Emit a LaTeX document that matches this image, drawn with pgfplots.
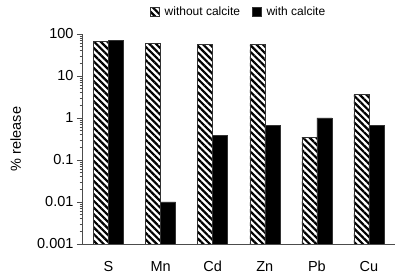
\documentclass[border=0pt]{standalone}
\usepackage{pgfplots}
\pgfplotsset{compat=1.18}
\usepackage{fontspec}
\setmainfont{Liberation Sans}
\usetikzlibrary{patterns.meta}
\begin{document}
\begin{tikzpicture}
% fixed page: axis box at 82.5..395 x 34..244 of a 400x280 frame
\useasboundingbox (-82.5pt,-36pt) rectangle (317.5pt,244pt);
\begin{axis}[
    at={(0pt,0pt)}, anchor=south west,
    scale only axis,
    width=312.5pt, height=210pt,
    ymode=log,
    log origin=infty,
    ymin=0.001, ymax=100,
    xmin=-0.5, xmax=5.5,
    ybar=0pt,
    bar width=15pt,
    axis x line*=bottom,
    axis y line*=left,
    axis line style={black!70, line width=0.6pt},
    xtick={0,...,5},
    xticklabels={S,Mn,Cd,Zn,Pb,Cu},
    x tick label style={font=\fontsize{14.5}{16}\selectfont, yshift=-8pt},
    major x tick style={draw=none},
    extra x ticks={0.5,1.5,2.5,3.5,4.5,5.5},
    extra x tick labels={},
    extra x tick style={major tick length=5pt, tick align=outside,
        major tick style={draw=black!70, line width=0.6pt}},
    ytick={0.001,0.01,0.1,1,10,100},
    yticklabels={0.001,0.01,0.1,1,10,100},
    y tick label style={font=\fontsize{14.5}{16}\selectfont},
    tick align=outside,
    major tick length=5.5pt,
    y tick style={draw=black!70, line width=0.6pt},
    minor y tick num=0,
    /pgf/number format/assume math mode=true,
    ylabel={\% release},
    ylabel style={font=\fontsize{14.5}{16}\selectfont,
        at={(axis description cs:-0.214,0.5)}, anchor=center},
    legend style={draw=none, at={(0.5,1.105)}, anchor=center,
        legend columns=2, font=\fontsize{12}{14}\selectfont,
        /tikz/every odd column/.append style={column sep=3pt},
        /tikz/every even column/.append style={column sep=10pt}},
    legend image code/.code={\draw[#1] (0pt,-4.5pt) rectangle (9pt,4.5pt);},
]
\addplot[draw=black!80, line width=0.5pt,
    pattern={Lines[angle=-45,distance=4.7pt,line width=2.2pt]}, pattern color=black]
    coordinates {(0,68) (1,60) (2,56) (3,56) (4,0.35) (5,3.6)};
\addplot[draw=black!80, fill=black, line width=0.5pt]
    coordinates {(0,70) (1,0.01) (2,0.38) (3,0.68) (4,1.0) (5,0.66)};
\legend{without calcite, with calcite}
\end{axis}
\end{tikzpicture}
\end{document}
